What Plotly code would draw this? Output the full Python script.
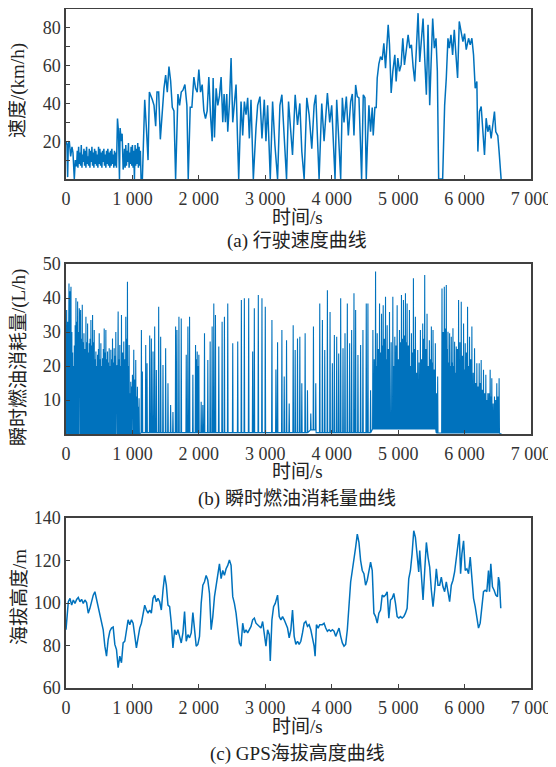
import numpy as np
import plotly.graph_objects as go

# ---------------- (a) speed, km/h ----------------
SPD_T = [0, 15, 25, 35, 50, 70, 90, 105, 125, 140, 150,
         775, 790, 805, 815, 830, 845, 860,
         1150, 1185, 1210, 1235, 1255, 1280, 1300, 1325, 1350, 1370, 1395, 1420, 1450, 1475, 1500,
         1525, 1550, 1575, 1600, 1625, 1650, 1685, 1710, 1735, 1760, 1790, 1820, 1840, 1870, 1895,
         1925, 1950, 1975, 2000, 2025, 2050, 2075, 2100, 2125, 2150, 2175, 2200, 2215, 2235, 2260,
         2285, 2310, 2335, 2360, 2380, 2400, 2420, 2435, 2460, 2485, 2510, 2535, 2560, 2580, 2600,
         2635, 2660, 2685, 2710, 2735, 2760, 2785, 2820, 2860, 2885, 2920, 2950, 2985, 3010, 3035,
         3075, 3110, 3145, 3185, 3220, 3250, 3285, 3320, 3350, 3385, 3410, 3450, 3485, 3520, 3550,
         3585, 3625, 3660, 3700, 3735, 3760, 3810, 3850, 3885, 3935, 3970, 4000, 4050, 4075, 4100,
         4135, 4160, 4185, 4220, 4250, 4285, 4310, 4335, 4360, 4385, 4410, 4450, 4475, 4500, 4520,
         4535, 4560, 4585, 4610, 4625, 4650, 4670, 4685, 4710, 4735, 4760, 4785, 4810, 4850, 4870,
         4895, 4920, 4950, 4970, 4995, 5020, 5045, 5070, 5095, 5120, 5150, 5175, 5200, 5225, 5250,
         5275, 5300, 5325, 5350, 5375, 5400, 5425, 5450, 5475, 5495, 5520, 5545, 5570, 5590, 5610,
         5670, 5700, 5725, 5750, 5770, 5795, 5820, 5845, 5870, 5895, 5920, 5950, 5975, 6000, 6025,
         6060, 6085, 6110, 6135, 6160, 6185, 6200, 6225, 6250, 6275, 6300, 6325, 6350, 6375, 6400,
         6425, 6450, 6470, 6500, 6520, 6550]
SPD_V = [20, 18, 1, 19, 20, 12, 17, 14, 0, 10, 7,
         32, 25, 0, 27, 20, 24, 5,
         0, 42, 27, 10, 46, 44, 42, 39, 28, 46, 46, 21, 36, 48, 55,
         46, 59.5, 52, 38, 36, 0, 45, 39, 46, 47, 50, 39, 0, 38, 38,
         54, 48, 46, 58, 46, 50, 36, 32, 36, 54, 34, 20, 53.5, 22, 48,
         39, 44, 54, 30, 45, 30, 45, 25, 40, 64, 30, 40, 50, 24, 0,
         41, 23, 41, 34, 43, 21.5, 42, 0, 27, 39, 43.6, 21.5, 42, 20, 39,
         0, 41, 18, 0, 39, 44.6, 21.5, 0, 41, 21.5, 12.7, 44.6, 28.6, 40, 14.5,
         0, 43, 34, 16, 39, 44.6, 0, 40, 20, 45.5, 30, 39, 0, 42, 25,
         0, 43, 30, 43.6, 23, 41, 45, 23, 49.8, 43.6, 43, 0, 44.6, 43, 0,
         16, 39, 25, 37.8, 23, 37.8, 37.8, 53.5, 61, 64.8, 63, 71.8, 58.7, 81.6, 71,
         45.5, 57, 65.7, 51.6, 64, 57, 60.4, 74.5, 60.4, 67.5, 76.3, 69.3, 71, 59.5, 51.6,
         69.3, 87.8, 62, 75.4, 85, 64, 44.6, 81.6, 39, 60.4, 85, 69.3, 74.5, 57, 0,
         0, 39, 53.5, 74.5, 69.3, 76.3, 65.7, 79, 65.7, 53.5, 83.4, 76.3, 72.7, 77, 68.5,
         74.5, 71, 74.5, 65.7, 48, 51.6, 14.5, 35.7, 38.4, 25, 12.7, 32.2, 25, 28.6, 21.5,
         28.6, 35.7, 25, 23, 14.5, 0]
# dense low-speed stretches, sampled every 10 s
SPD_BAND1_T0 = 160
SPD_BAND1_V = [7, 15, 6, 17, 8, 14, 7, 18, 6, 13, 9, 16, 7, 15, 6, 17, 8, 12, 7, 16, 6, 15, 9, 17, 7,
               14, 6, 16, 8, 15, 7, 13, 6, 17, 8, 16, 7, 14, 6, 15, 9, 16, 7, 13, 6, 15, 8, 16, 7, 14,
               6, 15, 7, 16, 8, 13, 6, 15, 7, 14, 6]
SPD_BAND2_T0 = 870
SPD_BAND2_V = [8, 16, 6, 18, 7, 15, 9, 19, 6, 14, 8, 17, 7, 18, 6, 15, 0, 18, 7, 16, 8, 19, 6, 17, 7, 15, 0]

# ---------------- (b) fuel, L/h ----------------
FUEL_T = [0, 10, 18, 25, 35, 45, 52, 60, 68, 75, 88, 100, 112, 125, 138, 150, 162, 175, 188, 200,
          210, 220, 232, 245, 258, 270, 285, 300, 312, 325, 338, 350, 362, 375, 388, 400, 412, 425,
          438, 450, 462, 475, 488, 500, 512, 525, 538, 550, 562, 575, 588, 600, 612, 625, 638, 650,
          662, 675, 688, 700, 712, 725, 738, 750, 760, 770, 778, 785, 798, 810, 822, 835, 852, 870,
          885, 900, 912, 925, 938, 950, 962, 975, 988, 1000, 1010, 1020, 1035, 1050, 1062, 1075,
          1088, 1100,
          1135, 1150, 1200, 1220, 1260, 1285, 1310, 1335, 1360, 1395, 1425, 1460, 1500, 1535, 1575,
          1610, 1650, 1670, 1700, 1735, 1810, 1835, 1860, 1910, 1950, 1962, 1975, 1988, 2000, 2035,
          2060, 2085, 2135, 2170, 2200, 2225, 2250, 2300, 2350, 2385, 2435, 2510, 2585, 2640, 2685,
          2750, 2810, 2835, 2895, 2950, 3000, 3100, 3160, 3185, 3250, 3285, 3320, 3360, 3420, 3450,
          3485, 3520, 3550, 3600, 3635, 3685, 3725, 3760, 3820, 3860, 3895, 3935, 3975, 4010, 4040,
          4075, 4105, 4135, 4170, 4200, 4235, 4270, 4300, 4335, 4360, 4395, 4435, 4470, 4520, 4545,
          4585, 4620, 4640, 4660, 4672, 4685, 4702, 4720, 4735, 4750, 4762, 4775, 4792, 4810, 4822,
          4835, 4852, 4870, 4895, 4920, 4935, 4950, 4968, 4985, 5002, 5020, 5035, 5050, 5065, 5080,
          5095, 5110, 5122, 5135, 5152, 5170, 5185, 5200, 5215, 5230, 5245, 5260, 5278, 5295, 5315,
          5335, 5352, 5370, 5385, 5400, 5418, 5435, 5452, 5470, 5485, 5500, 5512, 5525, 5542, 5560,
          5578, 5595, 5660, 5678, 5695, 5710, 5725, 5738, 5750, 5762, 5775, 5788, 5800, 5812, 5825,
          5838, 5850, 5862, 5875, 5892, 5910, 5930, 5950, 5968, 5985, 5998, 6010, 6028, 6045, 6060,
          6075, 6092, 6110, 6130, 6150, 6168, 6185, 6202, 6220, 6235, 6250, 6268, 6285, 6302, 6320,
          6335, 6350, 6368, 6385, 6398, 6410, 6430, 6450, 6468, 6485, 6502, 6520]
FUEL_V = [21, 36.5, 28, 33, 30, 44.3, 35, 42, 38, 43.3, 30, 24, 20, 26, 32, 40, 33, 39, 30, 37,
          31, 36.5, 28, 38, 27, 29.6, 25, 34.5, 27, 32.5, 24, 26.7, 28, 33.5, 26, 35, 27, 30.6,
          22, 24.3, 20, 23.3, 25, 29.6, 22, 26.7, 20, 22.3, 25, 31, 24, 30.6, 22, 24.3, 21, 25.2,
          20, 24.8, 22, 28.1, 21, 25.2, 23, 30, 18, 20.3, 15, 36, 22, 26.2, 20, 35, 24, 27.2,
          22, 34.5, 28, 44.8, 20, 26.2, 12, 15.4, 14, 17.4, 13, 24.8, 16, 21.8, 11, 13.9,
          8, 10.5,
          30.6, 18.4, 26.2, 20.8, 29, 28.1, 24.3, 31.6, 18.8, 37.4, 28.6, 20.3, 25.2, 14.9, 8.5,
          6.5, 31.6, 30.6, 34.5, 34, 23.3, 31.6, 34.5, 17.4, 26.2, 22, 24.3, 20, 23.3, 9.5,
          8.5, 29.6, 21.8, 27.2, 31.6, 38.4, 35, 25.7, 33, 34.5, 38.4, 26.7, 27.2, 39.4, 39.9,
          39.9, 24.3, 37, 40.9, 39.9, 37.4, 33.5, 19, 27, 30.6, 16.9, 27.6, 9, 32, 24.7,
          28.1, 28.6, 14.9, 29.6, 12.9, 6, 31.6, 14.9, 38.4, 33.5, 24.7, 42.3, 35.9, 20.8, 29.1,
          28.6, 23.7, 39.9, 25.2, 29.6, 38.4, 26.7, 30.6, 41.4, 36.5, 23.2, 26.2, 30.6, 38.4, 38.4,
          12.9, 30.6, 22, 47.8, 20, 29.6, 25, 38.4, 24, 35.4, 26, 37.9, 28, 40.4, 22,
          32, 25, 35.9, 27, 40.4, 20, 28.6, 26, 37.9, 22, 30.6, 27, 40.9, 28, 39.4,
          29, 41.4, 27, 38.4, 26, 36.5, 20, 29.6, 24, 45.8, 25, 34.5, 18, 24.7, 21,
          30.6, 22, 32.5, 28, 46.8, 25, 35.4, 20, 27.6, 22, 31.6, 21, 30.6, 19, 26.7,
          12, 16.9, 42.8, 30, 43.3, 31, 43.8, 25, 30.1, 21, 29.6, 20, 28.6, 21, 31.1,
          20, 27.1, 18, 25.7, 25, 39.4, 27, 38.9, 23, 32.5, 19, 26.7, 24, 37.4, 20,
          28.6, 22, 31.6, 18, 25.2, 15, 20.8, 14, 20.8, 15, 21.8, 13, 18.9, 12, 17.4,
          10, 12, 12, 18.9, 11, 16.4, 9, 11, 10, 14.9, 11, 16.4]
# idle consumption level between injections: (start s, end s, L/h)
FUEL_IDLE = [(0, 1110, 0.0), (1110, 3680, 0.4), (3680, 3760, 1.2), (3760, 4610, 0.4),
             (4610, 5570, 1.5), (5570, 6600, 0.3)]
FUEL_END_T = [6540, 6560]
FUEL_END_V = [0, 0]

# ---------------- (c) GPS altitude, m ----------------
ALT_T = [0, 35, 60, 85, 110, 135, 160, 185, 210, 235, 260, 285, 310, 335, 360, 385, 410, 435,
         460, 485, 510, 535, 560, 585, 610, 635, 660, 685, 710, 735, 760, 785, 810, 835, 860, 885,
         910, 935, 960, 985, 1010, 1035, 1060, 1085, 1110, 1135, 1160, 1185, 1210, 1235, 1260,
         1285, 1310, 1335, 1360, 1385, 1410, 1435, 1460, 1485, 1510, 1535, 1560, 1585, 1610, 1635,
         1660, 1685, 1710, 1735, 1760, 1785, 1810, 1835, 1860, 1885, 1910, 1935, 1960, 1985, 2010,
         2035, 2060, 2085, 2110, 2135, 2160, 2185, 2210, 2235, 2260, 2285, 2310, 2335, 2360, 2385,
         2410, 2435, 2460, 2485, 2510, 2535, 2560, 2585, 2610, 2635, 2660, 2685, 2710, 2735, 2760,
         2785, 2810, 2835, 2860, 2885, 2910, 2935, 2960, 2985, 3010, 3035, 3060, 3075, 3100, 3125,
         3150, 3185, 3210, 3235, 3260, 3285, 3310, 3335, 3360, 3385, 3410, 3435, 3460, 3485, 3510,
         3535, 3560, 3585, 3610, 3635, 3660, 3685, 3710, 3735, 3750, 3770, 3795, 3820, 3860, 3885,
         3910, 3935, 3960, 3985, 4010, 4035, 4060, 4085, 4110, 4135, 4160, 4185, 4210, 4235, 4260,
         4285, 4310, 4335, 4360, 4385, 4410, 4435, 4460, 4485, 4510, 4535, 4560, 4585, 4610, 4635,
         4660, 4685, 4710, 4735, 4760, 4785, 4810, 4835, 4860, 4885, 4910, 4935, 4960, 4985, 5010,
         5035, 5060, 5085, 5110, 5135, 5160, 5185, 5210, 5235, 5260, 5285, 5310, 5325, 5345, 5375,
         5400, 5425, 5450, 5475, 5500, 5525, 5550, 5575, 5600, 5625, 5650, 5675, 5700, 5725, 5750,
         5775, 5800, 5825, 5850, 5875, 5900, 5920, 5940, 5960, 5985, 6010, 6035, 6060, 6085, 6110,
         6135, 6160, 6185, 6210, 6235, 6260, 6285, 6310, 6335, 6360, 6375, 6395, 6420, 6445, 6470,
         6495, 6510, 6525, 6545]
ALT_V = [87.4, 100.6, 102.2, 99, 101.4, 99.8, 101.7, 102.6, 100.6, 101.7, 99.8, 101.4, 100.2,
         95.2, 97.5, 100.6, 103.7, 105.3, 101.4, 98.3, 95.2, 91.3, 87.4, 79.7, 75, 82.8, 86.7,
         88.2, 88.7, 80.5, 78.1, 69.6, 75, 71.9, 81.2, 82, 87.4, 92.1, 89.8, 92.1, 90.5, 83.6,
         78.9, 83.6, 88.2, 90.5, 95.2, 99, 96.7, 95.2, 96.7, 95.2, 102.2, 103.7, 100.6, 102.2,
         100.6, 96.7, 106, 113, 108.4, 99, 98.3, 90.5, 78.9, 87.4, 85.1, 87.4, 84.3, 81.2, 85.9,
         96, 82, 85.1, 83.6, 85.9, 95.5, 87.4, 79.7, 80.5, 84.3, 99.8, 108.4, 110, 113, 110.7,
         104.5, 87.4, 93.6, 103, 108.4, 112.2, 118.4, 111.5, 115.3, 113, 116.1, 117.7, 120.3,
         117.7, 103, 99.8, 95.2, 88.2, 81.2, 79.7, 90.5, 85.9, 87.4, 85.9, 87.4, 89, 92.1, 92.9,
         90.5, 89.8, 89, 88.2, 91.3, 85.9, 79.7, 87.4, 85.1, 72.7, 92.1, 98.3, 99.8, 103.7, 93.6,
         92.1, 93.6, 92.1, 90.5, 88.2, 83.6, 87.4, 96.7, 84.3, 80.5, 82, 80.5, 82, 85.9, 90.5,
         91.3, 89, 89.8, 87.4, 83.6, 79.7, 75, 89.8, 88.2, 89.8, 89.8, 90.5, 88.2, 86.7, 87.4,
         86.7, 87.4, 86.7, 84.3, 86.7, 88.2, 84.3, 81.2, 79.7, 80.5, 87.4, 99.8, 109.9, 115.3,
         120, 126.2, 132.4, 128.5, 120, 115.3, 113.8, 108.4, 110.7, 114.6, 119.2, 115.3, 95.2,
         93.6, 90.5, 95.2, 96.7, 103.7, 103, 103.7, 105.3, 92.9, 101.4, 102.2, 104.5, 99.8, 93.6,
         92.9, 93.6, 92.9, 93.6, 95.2, 97.5, 111.5, 115.3, 123.1, 134, 130.9, 121.6, 114.6, 124.7,
         113.8, 101.4, 115.3, 128.5, 121.6, 116.9, 106, 98.3, 106, 116.1, 108.4, 108.4, 112.2,
         107.6, 105.3, 109.9, 105.3, 100.6, 108.4, 110.7, 114.6, 121.6, 129.3, 132.4, 113.8, 123.1,
         129.3, 115.3, 116.1, 113.8, 121.6, 112.2, 102.2, 98.3, 92.1, 88.2, 90.5, 98.3, 105.3, 106,
         105.3, 115.3, 105.3, 118.4, 107.6, 106, 103.7, 103, 112.2, 109.9, 97.5]

X_TICKS = [0, 1000, 2000, 3000, 4000, 5000, 6000, 7000]
X_TICKTEXT = ["0", "1 000", "2 000", "3 000", "4 000", "5 000", "6 000", "7 000"]

# ---------------- build series ----------------
spd = sorted(list(zip(SPD_T, SPD_V))
             + [(SPD_BAND1_T0 + 10 * i, v) for i, v in enumerate(SPD_BAND1_V)]
             + [(SPD_BAND2_T0 + 10 * i, v) for i, v in enumerate(SPD_BAND2_V)])
spd_t = [p[0] for p in spd]
spd_v = [p[1] for p in spd]


def idle_at(t):
    for a, b, lvl in FUEL_IDLE:
        if a <= t < b:
            return lvl
    return 0.0


HW = 5
pts = []
for t, v in zip(FUEL_T, FUEL_V):
    pts += [(t - HW, idle_at(t - HW)), (t, v), (t + HW, idle_at(t + HW))]
pts += list(zip(FUEL_END_T, FUEL_END_V))
pts.sort()
fuel_t = [max(p[0], 0) for p in pts]
fuel_v = [p[1] for p in pts]

BLUE = "#0072BD"
AX = "#404040"
FONT = "'Liberation Serif', 'Times New Roman', 'Noto Sans CJK SC', serif"

fig = go.Figure()
fig.add_trace(go.Scatter(x=spd_t, y=spd_v, mode="lines", line=dict(color=BLUE, width=1.5),
                         xaxis="x", yaxis="y", showlegend=False))
fig.add_trace(go.Scatter(x=fuel_t, y=fuel_v, mode="lines", line=dict(color=BLUE, width=1.1),
                         xaxis="x2", yaxis="y2", showlegend=False))
fig.add_trace(go.Scatter(x=ALT_T, y=ALT_V, mode="lines", line=dict(color=BLUE, width=1.5),
                         xaxis="x3", yaxis="y3", showlegend=False))

# the page places the figure 8 px in from the top-left corner
OFF = 8
W, H = 556 - OFF, 767 - OFF
XL, XR = 66 - OFF, 531 - OFF
panels = [(9 - OFF, 179 - OFF), (264 - OFF, 434 - OFF), (518 - OFF, 688 - OFF)]


def ydom(top, bot):
    return [1 - bot / H, 1 - top / H]


xcommon = dict(range=[0, 7000], tickvals=X_TICKS, ticktext=X_TICKTEXT, ticks="inside", ticklen=4,
               tickcolor=AX, showline=True, linecolor=AX, linewidth=1.5, mirror=True,
               showgrid=False, zeroline=False, domain=[XL / W, XR / W],
               tickfont=dict(family=FONT, size=18, color="#333333"), automargin=False,
               ticklabelstandoff=3)
ycommon = dict(ticks="inside", ticklen=4, tickcolor=AX, showline=True, linecolor=AX,
               linewidth=1.5, mirror=True, showgrid=False, zeroline=False,
               tickfont=dict(family=FONT, size=18, color="#333333"), automargin=False)

fig.update_layout(
    width=W, height=H, margin=dict(l=0, r=0, t=0, b=0),
    paper_bgcolor="white", plot_bgcolor="white",
    xaxis=dict(**xcommon, anchor="y"),
    xaxis2=dict(**xcommon, anchor="y2"),
    xaxis3=dict(**xcommon, anchor="y3"),
    yaxis=dict(**ycommon, anchor="x", domain=ydom(*panels[0]), range=[0, 90],
               tickvals=[10, 20, 30, 40, 50, 60, 70, 80],
               ticktext=["", "20", "", "40", "", "60", "", "80"]),
    yaxis2=dict(**ycommon, anchor="x2", domain=ydom(*panels[1]), range=[0, 50],
                tickvals=[10, 20, 30, 40, 50], ticktext=["10", "20", "30", "40", "50"]),
    yaxis3=dict(**ycommon, anchor="x3", domain=ydom(*panels[2]), range=[60, 140],
                tickvals=[60, 80, 100, 120, 140], ticktext=["60", "80", "100", "120", "140"]),
)

ann = []
cx = 297


def txt(x, y, s, size=19, angle=0):
    ann.append(dict(x=(x - OFF) / W, y=1 - (y - OFF) / H, xref="paper", yref="paper", text=s,
                    showarrow=False, xanchor="center", yanchor="middle", textangle=angle,
                    font=dict(family=FONT, size=size, color="#222222")))


txt(cx, 218, "时间/s")
txt(cx, 241, "(a) 行驶速度曲线")
txt(cx, 471, "时间/s")
txt(cx, 499, "(b) 瞬时燃油消耗量曲线")
txt(cx, 726, "时间/s")
txt(cx, 754, "(c) GPS海拔高度曲线")
txt(18, 91, "速度/(km/h)", angle=-90)
txt(19, 358, "瞬时燃油消耗量/(L/h)", angle=-90)
txt(19, 597, "海拔高度/m", angle=-90)
fig.update_layout(annotations=ann)

fig.write_html("out.html")
